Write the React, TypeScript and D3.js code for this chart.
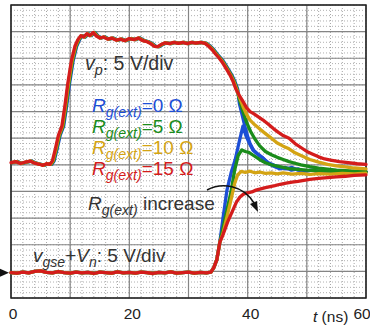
import React, { useEffect, useRef } from "react";
import * as d3 from "d3";

// time axis (ns) and screen divisions
const xTicks = [0, 20, 40, 60];
const rgValues = [0, 5, 10, 15];
const colors = ["#1d4ed6", "#1b8c1b", "#d4a414", "#d41c1c"];
// small lag of each trace on the shared edges (ns)
const riseLag = [0.3, 0.2, 0.1, 0];

// v_p, common part (t ns, divisions)
const vpShared: [number, number][] = [
  [0, 5.08], [0.8, 5.12], [1.6, 5.05], [2.4, 5.1], [3.2, 5.14], [4, 5.06], [4.8, 5.02], [5.4, 4.98],
  [6, 5.04], [6.6, 5.02], [7.0, 5.15], [7.5, 5.6], [8.0, 6.1], [8.6, 6.45], [9.1, 7.2], [9.6, 8.05],
  [10.2, 8.9], [10.8, 9.45], [11.3, 9.7], [11.8, 9.85], [12.3, 9.8], [12.8, 9.92], [13.3, 9.85],
  [13.9, 9.97], [14.4, 9.84], [15, 9.76], [15.6, 9.8], [16.3, 9.72], [17, 9.76], [17.8, 9.68],
  [18.5, 9.72], [19.2, 9.66], [20, 9.74], [20.8, 9.7], [21.5, 9.76], [22.3, 9.66], [23, 9.62],
  [23.6, 9.55], [24.2, 9.45], [24.8, 9.44], [25.4, 9.52], [26, 9.58], [26.8, 9.55], [27.5, 9.6],
  [28.3, 9.56], [29, 9.6], [29.8, 9.55], [30.5, 9.6], [31.2, 9.57], [32, 9.6], [32.8, 9.56],
  [33.4, 9.45], [34, 9.32], [34.6, 9.15], [35.2, 9.0], [35.8, 8.82], [36.4, 8.6], [37, 8.38],
  [37.5, 8.15], [38, 7.85],
];
const vpTailBlue: [number, number][] = [
  [38.6, 7.3], [39.2, 6.75], [39.8, 6.2], [40.4, 5.8], [41, 5.55], [41.8, 5.38], [42.6, 5.25],
  [43.5, 5.08], [44.5, 4.98], [45.5, 4.9], [46.5, 4.85], [47.5, 4.9], [48.5, 4.8], [49.5, 4.76],
  [51, 4.8], [52.5, 4.72], [54, 4.76], [55.5, 4.72], [57, 4.74], [58.5, 4.7], [60, 4.73],
];
const vpTailGreen: [number, number][] = [
  [38.6, 7.45], [39.2, 7.0], [39.8, 6.6], [40.5, 6.25], [41.2, 5.98], [42, 5.72], [43, 5.5],
  [44, 5.38], [45, 5.28], [46, 5.2], [47, 5.12], [48, 5.06], [49, 5.0], [50.5, 4.93], [52, 4.88],
  [53.5, 4.84], [55, 4.8], [56.5, 4.78], [58, 4.76], [60, 4.74],
];
const vpTailYellow: [number, number][] = [
  [38.6, 7.55], [39.2, 7.2], [39.8, 6.9], [40.4, 6.68], [41.2, 6.5], [42, 6.35], [43, 6.17],
  [44, 6.0], [45, 5.82], [46, 5.7], [47, 5.6], [48, 5.45], [49, 5.35], [50.5, 5.2], [52, 5.1],
  [53.5, 5.02], [55, 4.96], [56.5, 4.92], [58, 4.88], [60, 4.85],
];
const vpTailRed: [number, number][] = [
  [38.6, 7.6], [39.2, 7.38], [39.8, 7.15], [40.4, 7.0], [41, 6.92], [41.8, 6.8], [42.6, 6.68],
  [43.5, 6.52], [44.4, 6.35], [45.2, 6.22], [46, 6.1], [47, 6.0], [48, 5.8], [49, 5.65], [50, 5.5],
  [51, 5.4], [52, 5.3], [53, 5.22], [54, 5.18], [55.5, 5.12], [57, 5.08], [58.5, 5.04], [60, 5.02],
];

// v_gse + V_n, common part
const vgShared: [number, number][] = [
  [0, 0.95], [1, 0.93], [2, 0.97], [3, 0.94], [4, 1.0], [5, 1.02], [6, 0.96], [7, 0.94], [8, 0.99],
  [9, 0.95], [10, 0.93], [11, 0.97], [12, 0.94], [13, 0.96], [14, 0.92], [15, 0.97], [16, 0.95],
  [17, 0.93], [18, 0.98], [19, 0.94], [20, 0.96], [21, 0.93], [22, 0.97], [23, 0.95], [24, 0.92],
  [25, 0.96], [26, 0.94], [27, 0.98], [28, 0.93], [29, 0.95], [30, 0.97], [31, 0.93], [32, 0.96],
  [33, 0.94], [33.8, 0.97], [34.3, 1.15], [34.8, 1.45], [35.3, 2.1],
];
const vgTailBlue: [number, number][] = [
  [35.8, 2.95], [36.5, 4.05], [37.2, 4.7], [37.9, 5.2], [38.5, 5.8], [39.2, 6.45], [39.7, 6.1],
  [40.2, 5.85], [40.9, 5.55], [41.7, 5.4], [42.6, 5.25], [43.5, 5.05], [44.4, 4.95], [45.4, 4.85],
  [46.4, 4.9], [47.4, 4.8], [48.5, 4.85], [49.5, 4.76], [51, 4.8], [52.5, 4.72], [54, 4.76],
  [55.5, 4.7], [57, 4.74], [58.5, 4.7], [60, 4.72],
];
const vgTailGreen: [number, number][] = [
  [35.8, 2.6], [36.5, 3.3], [37.2, 4.0], [37.8, 4.8], [38.4, 5.35], [39, 5.56], [39.6, 5.5],
  [40.2, 5.47], [41, 5.35], [42, 5.2], [43, 5.08], [44, 5.0], [45, 4.95], [46, 4.9], [47, 4.86],
  [48.5, 4.83], [50, 4.8], [51.5, 4.78], [53, 4.77], [55, 4.75], [57, 4.74], [60, 4.73],
];
const vgTailYellow: [number, number][] = [
  [35.8, 2.4], [36.5, 3.05], [37.2, 3.7], [37.8, 4.3], [38.3, 4.62], [38.9, 4.75], [39.6, 4.72],
  [40.4, 4.76], [41.2, 4.7], [42, 4.73], [43, 4.68], [44, 4.7], [45, 4.66], [46, 4.7], [47.5, 4.65],
  [49, 4.68], [50.5, 4.64], [52, 4.67], [54, 4.65], [56, 4.68], [58, 4.66], [60, 4.69],
];
const vgTailRed: [number, number][] = [
  [35.8, 2.36], [36.6, 2.85], [37.5, 3.3], [38.1, 3.6], [38.7, 3.79], [39.3, 3.9], [40, 3.95],
  [40.7, 3.98], [41.4, 4.05], [42.2, 4.1], [43, 4.14], [43.8, 4.18], [44.6, 4.22], [45.5, 4.27],
  [46.5, 4.31], [47.5, 4.35], [48.5, 4.38], [49.5, 4.42], [50.5, 4.45], [52, 4.49], [53.5, 4.52],
  [55, 4.55], [56.5, 4.57], [58, 4.6], [60, 4.62],
];

const vpTails = [vpTailBlue, vpTailGreen, vpTailYellow, vpTailRed];
const vgTails = [vgTailBlue, vgTailGreen, vgTailYellow, vgTailRed];

const FONT = "'Liberation Sans', Arial, sans-serif";

type Part = { s: string; i?: boolean; sub?: boolean };

function richText(g: any, x: number, y: number, parts: Part[], size: number, color: string) {
  const t = g.append("text").attr("x", x).attr("y", y)
    .attr("font-size", size).attr("fill", color).attr("font-family", FONT);
  let down = false;
  parts.forEach((p) => {
    const ts = t.append("tspan").text(p.s);
    if (p.i) ts.attr("font-style", "italic");
    if (p.sub) {
      ts.attr("font-size", size * 0.74);
      if (!down) { ts.attr("dy", 5); down = true; }
    } else if (down) {
      ts.attr("dy", -5); down = false;
    }
  });
}

const App = () => {
  const svgRef = useRef<SVGSVGElement>(null);

  useEffect(() => {
    const W = 370, H = 327;
    const svg = d3.select(svgRef.current);
    svg.selectAll("*").remove();
    svg.attr("width", W).attr("height", H);

    const x = d3.scaleLinear().domain([0, 60]).range([11, 366]);
    const y = d3.scaleLinear().domain([0, 11]).range([298, 5]);

    svg.append("rect").attr("width", W).attr("height", H).attr("fill", "#fff");

    const grid = svg.append("g");
    // minor dotted grid
    grid.selectAll(".mv").data(d3.range(0, 60.01, 2)).join("line")
      .attr("x1", (d) => x(d)).attr("x2", (d) => x(d)).attr("y1", y(11)).attr("y2", y(0))
      .attr("stroke", "#a8a8a8").attr("stroke-width", 1).attr("stroke-dasharray", "1,2");
    grid.selectAll(".mh").data(d3.range(0, 11.01, 0.2)).join("line")
      .attr("y1", (d) => y(d)).attr("y2", (d) => y(d)).attr("x1", x(0)).attr("x2", x(60))
      .attr("stroke", "#b0b0b0").attr("stroke-width", 1).attr("stroke-dasharray", "1,2");
    // major grid
    grid.selectAll(".Mv").data(d3.range(0, 60.01, 10)).join("line")
      .attr("x1", (d) => x(d)).attr("x2", (d) => x(d)).attr("y1", y(11)).attr("y2", y(0))
      .attr("stroke", "#858585").attr("stroke-width", 1.2);
    grid.selectAll(".Mh").data(d3.range(0, 11.01, 1)).join("line")
      .attr("y1", (d) => y(d)).attr("y2", (d) => y(d)).attr("x1", x(0)).attr("x2", x(60))
      .attr("stroke", "#858585").attr("stroke-width", 1.2);
    svg.append("rect").attr("x", x(0)).attr("y", y(11))
      .attr("width", x(60) - x(0)).attr("height", y(0) - y(11))
      .attr("fill", "none").attr("stroke", "#222").attr("stroke-width", 1.5);

    const line = d3.line<[number, number]>().x((d) => x(d[0])).y((d) => y(d[1]));
    const traces = svg.append("g").attr("fill", "none").attr("stroke-width", 3.3)
      .attr("stroke-linejoin", "round").attr("stroke-linecap", "round");
    rgValues.forEach((_, i) => {
      const lag = riseLag[i];
      const vp = vpShared.map(([t, v]) => [t + lag, v] as [number, number]).concat(vpTails[i]);
      const vg = vgShared.concat(vgTails[i]);
      traces.append("path").attr("d", line(vg)).attr("stroke", colors[i]);
      traces.append("path").attr("d", line(vp)).attr("stroke", colors[i]);
    });

    // ground marker on the left
    svg.append("path").attr("d", `M0,${y(0.95) - 4}L9,${y(0.95)}L0,${y(0.95) + 4}Z`).attr("fill", "#111");

    // tick labels
    svg.selectAll(".tick").data(xTicks).join("text")
      .attr("x", (d, i) => x(d) + (i === 0 ? 2 : i === xTicks.length - 1 ? -4 : 3))
      .attr("y", 319).attr("text-anchor", "middle").attr("font-size", 15.5)
      .attr("font-family", FONT).attr("fill", "#222").text((d) => d);
    richText(svg, 313, 322, [{ s: "t", i: true }, { s: " (ns)" }], 15.5, "#222");

    // annotations
    richText(svg, 85, 70, [{ s: "v", i: true }, { s: "p", i: true, sub: true }, { s: ": 5 V/div" }], 19.5, "#333");
    rgValues.forEach((v, i) => {
      richText(svg, 92, 112 + i * 21,
        [{ s: "R", i: true }, { s: "g(ext)", i: true, sub: true }, { s: `=${v} Ω` }], 19, colors[i]);
    });
    richText(svg, 88, 210, [{ s: "R", i: true }, { s: "g(ext)", i: true, sub: true }, { s: " increase" }], 19, "#333");
    richText(svg, 33, 262,
      [{ s: "v", i: true }, { s: "gse", i: true, sub: true }, { s: "+" }, { s: "V", i: true },
       { s: "n", i: true, sub: true }, { s: ": 5 V/div" }], 19, "#333");

    // curved arrow
    svg.append("path").attr("d", "M207,190 C222,182 243,185 254,203")
      .attr("fill", "none").attr("stroke", "#111").attr("stroke-width", 1.5);
    svg.append("path").attr("d", "M258,212 L250,204 L257,201 Z").attr("fill", "#111");
  }, []);

  return (
    <div style={{ position: "absolute", left: 0, top: 0 }}>
      <svg ref={svgRef} style={{ display: "block" }}></svg>
    </div>
  );
};

export default App;
